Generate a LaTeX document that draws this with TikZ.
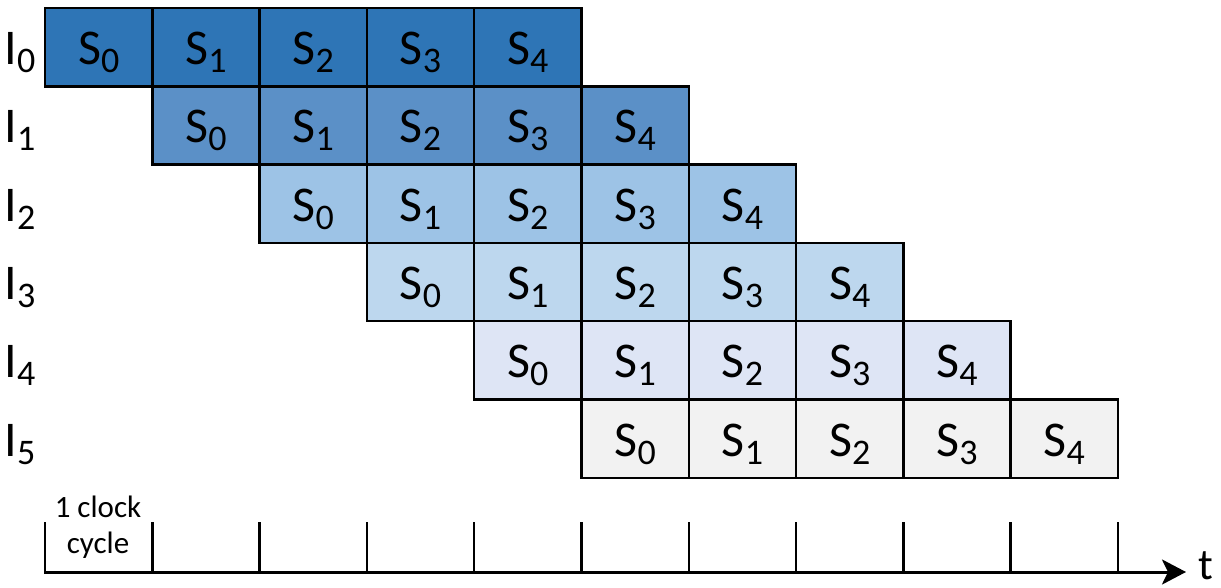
\documentclass[tikz,border=0pt]{standalone}
\usepackage{fontspec}
\setmainfont{Carlito}
\usetikzlibrary{arrows.meta}

\definecolor{rowA}{HTML}{2E75B6}
\definecolor{rowB}{HTML}{5B90C7}
\definecolor{rowC}{HTML}{9DC3E6}
\definecolor{rowD}{HTML}{BDD7EE}
\definecolor{rowE}{HTML}{DEE5F5}
\definecolor{rowF}{HTML}{F2F2F2}

\newcommand{\subdig}[1]{\raisebox{-0.16em}{\fontsize{36}{36}\selectfont #1}}
\newcommand{\stg}[1]{S\subdig{#1}}

\tikzset{
	cell/.style={draw=black, line width=2.5pt, minimum width=107.3pt, minimum height=78.3pt, inner sep=0pt, text height=35pt, text depth=0pt, font=\fontsize{50}{50}\selectfont},
	lbl/.style={inner sep=0pt, text height=35pt, text depth=0pt, font=\fontsize{50}{50}\selectfont},
}

\begin{document}
\begin{tikzpicture}[x=1pt,y=-1pt]
	\useasboundingbox (0,0) rectangle (1221,588);
	% Stages
	\foreach \r/\col in {0/rowA, 1/rowB, 2/rowC, 3/rowD, 4/rowE, 5/rowF} {
		\foreach \k in {0, ..., 4} {
			\node [cell, fill=\col] (c\r\k) at ({98.65+107.3*(\r+\k)}, {47.15+78.3*\r}) {\stg{\k}};
		}
		\node [lbl] (i\r) at (20, {47.15+78.3*\r}) {I\subdig{\r}};
	}
	% Ticks
	\foreach \k in {0, ..., 10} {
		\draw [line width=2.5pt] ({45+107.3*\k},522) -- ({45+107.3*\k},572);
	}
	% Time axis
	\coordinate (t0) at (44,572);
	\coordinate (t1) at (1186,572);
	\draw [line width=3pt, -{Stealth[length=24pt, width=25pt, inset=6pt]}] (t0) -- (t1);
	\node [font=\fontsize{44}{44}\selectfont, inner sep=0pt, anchor=center] (tt) at (1206,566) {t};
	\node [align=center, inner sep=0pt, font=\fontsize{31}{36}\selectfont] (clk) at (98,527) {1 clock\\cycle};
\end{tikzpicture}
\end{document}
